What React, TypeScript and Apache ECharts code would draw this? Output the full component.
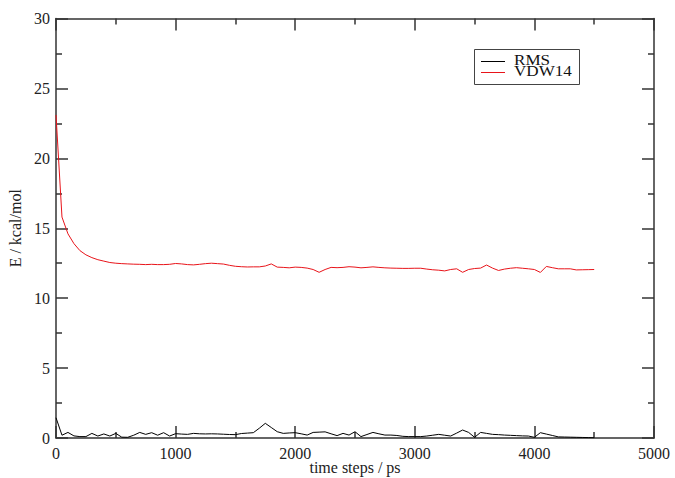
import React, { useEffect, useRef } from "react";
import * as echarts from "echarts";

const timeSteps: number[] = Array.from({ length: 91 }, (_, i) => i * 50);

const rmsValues: number[] = [
  1.45, 0.2, 0.4, 0.15, 0.1, 0.1, 0.33, 0.14, 0.29, 0.14,
  0.33, 0.06, 0.05, 0.2, 0.4, 0.26, 0.38, 0.2, 0.38, 0.14,
  0.31, 0.28, 0.26, 0.33, 0.3, 0.29, 0.3, 0.29, 0.27, 0.25,
  0.24, 0.32, 0.35, 0.38, 0.7, 1.05, 0.75, 0.45, 0.33, 0.36,
  0.38, 0.3, 0.21, 0.4, 0.42, 0.44, 0.3, 0.17, 0.33, 0.21,
  0.45, 0.1, 0.25, 0.4, 0.3, 0.21, 0.21, 0.18, 0.12, 0.1,
  0.1, 0.1, 0.14, 0.2, 0.26, 0.2, 0.14, 0.35, 0.57, 0.4,
  0.05, 0.4, 0.33, 0.26, 0.24, 0.21, 0.19, 0.17, 0.15, 0.14,
  0.05, 0.38, 0.28, 0.18, 0.08, 0.07, 0.06, 0.05, 0.04, 0.03,
  0.02,
];

const vdw14Values: number[] = [
  23.1, 15.8, 14.6, 13.9, 13.4, 13.1, 12.9, 12.75, 12.65, 12.55,
  12.5, 12.47, 12.45, 12.43, 12.42, 12.4, 12.42, 12.4, 12.4, 12.42,
  12.48, 12.45, 12.4, 12.38, 12.42, 12.47, 12.5, 12.47, 12.44, 12.35,
  12.28, 12.25, 12.23, 12.24, 12.24, 12.3, 12.45, 12.22, 12.2, 12.17,
  12.22, 12.2, 12.15, 12.05, 11.85, 12.05, 12.2, 12.18, 12.2, 12.25,
  12.22, 12.17, 12.2, 12.24, 12.2, 12.17, 12.15, 12.14, 12.13, 12.13,
  12.14, 12.14, 12.08, 12.03, 12.0, 11.95, 12.05, 12.1, 11.85, 12.05,
  12.12, 12.15, 12.37, 12.15, 11.98, 12.08, 12.14, 12.18, 12.14, 12.1,
  12.05, 11.84, 12.27, 12.18, 12.1, 12.1, 12.1, 12.02, 12.03, 12.04,
  12.05,
];

const seriesNames: string[] = ["RMS", "VDW14"];
const seriesColors: string[] = ["#000", "#e8141a"];
const xAxisTitle = "time steps / ps";
const yAxisTitle = "E / kcal/mol";

const FONT = "'Liberation Serif', 'Times New Roman', serif";
const AXIS_COLOR = "#333";

export default function App() {
  const ref = useRef<HTMLDivElement>(null);

  useEffect(() => {
    if (!ref.current) return;
    const chart = echarts.init(ref.current, undefined, { renderer: "svg" });

    const tickCommon = {
      axisLine: { show: true, onZero: false, lineStyle: { color: AXIS_COLOR, width: 1.5 } },
      axisTick: { show: true, inside: true, length: 12, lineStyle: { color: AXIS_COLOR, width: 1.5 } },
      minorTick: { show: true, splitNumber: 2, length: 6, lineStyle: { color: AXIS_COLOR, width: 1.5 } },
      splitLine: { show: false },
      minorSplitLine: { show: false },
    };

    const labelStyle = {
      show: true,
      fontFamily: FONT,
      fontSize: 16,
      color: "#222",
      formatter: (v: number) => String(v),
    };

    const option: any = {
      animation: false,
      backgroundColor: "#fff",
      grid: { left: 56, right: 21, top: 18.5, bottom: 40, containLabel: false, outerBoundsMode: "none" },
      graphic: [
        {
          type: "rect",
          z: 10,
          shape: { x: 474.5, y: 49.5, width: 105, height: 35 },
          style: { fill: "#fff", stroke: "#444", lineWidth: 1 },
        },
        {
          type: "line",
          z: 11,
          shape: { x1: 481, y1: 61.5, x2: 505, y2: 61.5 },
          style: { stroke: seriesColors[0], lineWidth: 1 },
        },
        {
          type: "line",
          z: 11,
          shape: { x1: 481, y1: 72.5, x2: 505, y2: 72.5 },
          style: { stroke: seriesColors[1], lineWidth: 1 },
        },
        {
          type: "text",
          z: 11,
          x: 514,
          y: 54,
          scaleX: 1.22,
          style: {
            text: seriesNames.join("\n"),
            fontFamily: FONT,
            fontSize: 14,
            lineHeight: 11.5,
            fill: "#111",
            align: "left",
            verticalAlign: "top",
          },
        },
      ],
      xAxis: [
        {
          type: "value",
          min: 0,
          max: 5000,
          interval: 1000,
          position: "bottom",
          name: xAxisTitle,
          nameLocation: "middle",
          nameGap: 21,
          nameMoveOverlap: false,
          nameTextStyle: { fontFamily: FONT, fontSize: 16, color: "#222" },
          axisLabel: { ...labelStyle, margin: 7 },
          ...tickCommon,
        },
        {
          type: "value",
          min: 0,
          max: 5000,
          interval: 1000,
          position: "top",
          axisLabel: { show: false },
          ...tickCommon,
        },
      ],
      yAxis: [
        {
          type: "value",
          min: 0,
          max: 30,
          interval: 5,
          position: "left",
          name: yAxisTitle,
          nameLocation: "middle",
          nameGap: 32,
          nameTextStyle: { fontFamily: FONT, fontSize: 16, color: "#222" },
          axisLabel: { ...labelStyle, margin: 6 },
          ...tickCommon,
        },
        {
          type: "value",
          min: 0,
          max: 30,
          interval: 5,
          position: "right",
          axisLabel: { show: false },
          ...tickCommon,
        },
      ],
      series: [
        {
          name: seriesNames[0],
          type: "line",
          xAxisIndex: 0,
          yAxisIndex: 0,
          symbol: "none",
          data: timeSteps.map((t, i) => [t, rmsValues[i]]),
          lineStyle: { color: seriesColors[0], width: 1 },
          itemStyle: { color: seriesColors[0] },
        },
        {
          name: seriesNames[1],
          type: "line",
          xAxisIndex: 0,
          yAxisIndex: 0,
          symbol: "none",
          data: timeSteps.map((t, i) => [t, vdw14Values[i]]),
          lineStyle: { color: seriesColors[1], width: 1 },
          itemStyle: { color: seriesColors[1] },
        },
      ],
    };

    chart.setOption(option);
    return () => chart.dispose();
  }, []);

  return (
    <div
      ref={ref}
      style={{ position: "fixed", left: 0, top: 0, width: 675, height: 478, background: "#fff" }}
    />
  );
}
